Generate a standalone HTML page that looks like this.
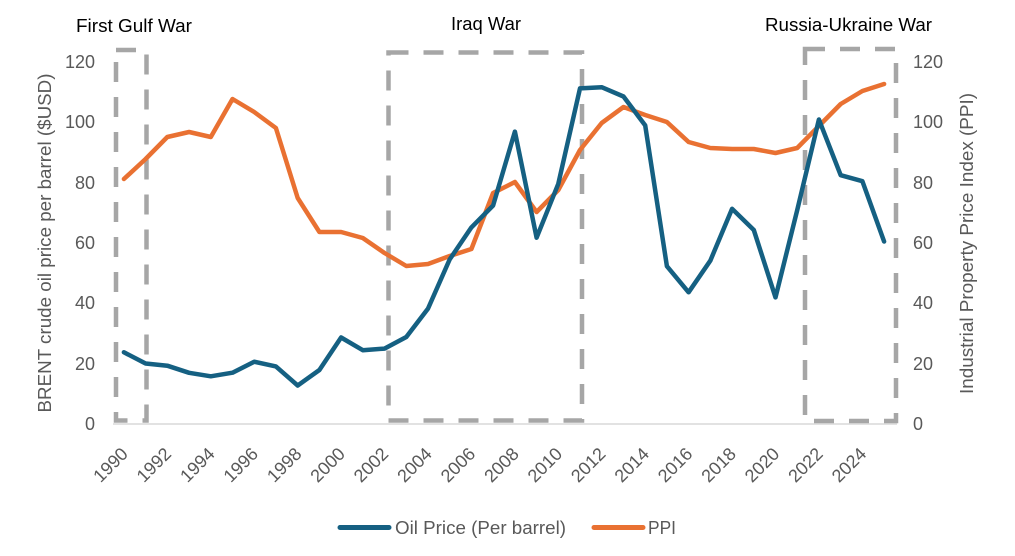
<!DOCTYPE html>
<html>
<head>
<meta charset="utf-8">
<style>
  html, body { margin: 0; padding: 0; background: #ffffff; }
  body { width: 1015px; height: 556px; overflow: hidden; }
  svg { display: block; font-family: "Liberation Sans", "DejaVu Sans", sans-serif; }
  .tick { font-size: 18px; fill: #595959; }
  .title { font-size: 18px; fill: #000000; }
</style>
</head>
<body>
<svg width="1015" height="556" viewBox="0 0 1015 556" xmlns="http://www.w3.org/2000/svg">
  <rect x="0" y="0" width="1015" height="556" fill="#ffffff"/>

  <!-- War titles -->
  <text class="title" x="76" y="32" textLength="116" lengthAdjust="spacingAndGlyphs">First Gulf War</text>
  <text class="title" x="451" y="30" textLength="70" lengthAdjust="spacingAndGlyphs">Iraq War</text>
  <text class="title" x="765" y="31" textLength="167" lengthAdjust="spacingAndGlyphs">Russia-Ukraine War</text>

  <!-- Left axis tick labels -->
  <g class="tick" text-anchor="end">
    <text x="95" y="430">0</text>
    <text x="95" y="370">20</text>
    <text x="95" y="309">40</text>
    <text x="95" y="249">60</text>
    <text x="95" y="189">80</text>
    <text x="95" y="128">100</text>
    <text x="95" y="68">120</text>
  </g>
  <!-- Right axis tick labels -->
  <g class="tick" text-anchor="start">
    <text x="913" y="430">0</text>
    <text x="913" y="370">20</text>
    <text x="913" y="309">40</text>
    <text x="913" y="249">60</text>
    <text x="913" y="189">80</text>
    <text x="913" y="128">100</text>
    <text x="913" y="68">120</text>
  </g>

  <!-- Axis titles -->
  <text class="tick" transform="translate(51,243) rotate(-90)" text-anchor="middle" font-size="17" textLength="339" lengthAdjust="spacingAndGlyphs">BRENT crude oil price per barrel ($USD)</text>
  <text class="tick" transform="translate(973,243.5) rotate(-90)" text-anchor="middle" font-size="17" textLength="301" lengthAdjust="spacingAndGlyphs">Industrial Property Price Index (PPI)</text>

  <!-- X axis line -->
  <line x1="113" y1="424" x2="897" y2="424" stroke="#D9D9D9" stroke-width="1.5"/>

  <!-- X tick labels -->
  <g class="tick" text-anchor="end">
    <text transform="translate(129,455) rotate(-45)">1990</text>
    <text transform="translate(172.3,455) rotate(-45)">1992</text>
    <text transform="translate(215.8,455) rotate(-45)">1994</text>
    <text transform="translate(259.2,455) rotate(-45)">1996</text>
    <text transform="translate(302.7,455) rotate(-45)">1998</text>
    <text transform="translate(346.1,455) rotate(-45)">2000</text>
    <text transform="translate(389.5,455) rotate(-45)">2002</text>
    <text transform="translate(433,455) rotate(-45)">2004</text>
    <text transform="translate(476.4,455) rotate(-45)">2006</text>
    <text transform="translate(519.9,455) rotate(-45)">2008</text>
    <text transform="translate(563.3,455) rotate(-45)">2010</text>
    <text transform="translate(606.7,455) rotate(-45)">2012</text>
    <text transform="translate(650.2,455) rotate(-45)">2014</text>
    <text transform="translate(693.6,455) rotate(-45)">2016</text>
    <text transform="translate(737.1,455) rotate(-45)">2018</text>
    <text transform="translate(780.5,455) rotate(-45)">2020</text>
    <text transform="translate(823.9,455) rotate(-45)">2022</text>
    <text transform="translate(867.4,455) rotate(-45)">2024</text>
  </g>

  <!-- Dashed war boxes -->
  <g fill="none" stroke="#A6A6A6" stroke-width="4.5" stroke-dasharray="20 15">
    <rect x="116" y="50" width="30.5" height="370.5"/>
    <rect x="388.5" y="52.5" width="193.5" height="368"/>
    <rect x="805" y="49" width="91" height="372"/>
  </g>

  <!-- PPI series -->
  <polyline fill="none" stroke="#E97132" stroke-width="4.5" stroke-linejoin="round" stroke-linecap="round"
    points="123.9,179 145.6,159 167.3,137 189.1,132 210.8,137 232.5,99 254.2,112 275.9,128 297.7,198 319.4,232 341.1,232 362.8,238 384.5,253 406.3,266 428.0,264 449.7,256 471.4,249 493.1,193 514.9,182 536.6,212 558.3,190 580.0,150 601.7,123 623.5,107 645.2,115 666.9,122 688.6,142 710.3,148 732.1,149 753.8,149 775.5,153 797.2,148 818.9,126 840.7,104 862.4,91 884.1,84"/>

  <!-- Oil price series -->
  <polyline fill="none" stroke="#156082" stroke-width="4.5" stroke-linejoin="round" stroke-linecap="round"
    points="123.9,352.3 145.6,363.5 167.3,365.7 189.1,372.8 210.8,376.3 232.5,372.7 254.2,361.7 275.9,366.4 297.7,385.5 319.4,370.0 341.1,337.5 362.8,350.2 384.5,348.6 406.3,337.0 428.0,308.6 449.7,259.4 471.4,227.4 493.1,205.5 514.9,131.6 536.6,237.7 558.3,183.8 580.0,88.4 601.7,87.2 623.5,96.5 645.2,125.4 666.9,266.2 688.6,292.3 710.3,260.7 732.1,208.8 753.8,230.0 775.5,297.4 797.2,210.2 818.9,119.5 840.7,175.2 862.4,181.2 884.1,241.5"/>

  <!-- Legend -->
  <line x1="340" y1="527.5" x2="389" y2="527.5" stroke="#156082" stroke-width="5" stroke-linecap="round"/>
  <text class="tick" x="395" y="534" font-size="18" textLength="171" lengthAdjust="spacingAndGlyphs">Oil Price (Per barrel)</text>
  <line x1="594" y1="527.5" x2="643" y2="527.5" stroke="#E97132" stroke-width="5" stroke-linecap="round"/>
  <text class="tick" x="648" y="534" font-size="18" textLength="28" lengthAdjust="spacingAndGlyphs">PPI</text>
</svg>
</body>
</html>
